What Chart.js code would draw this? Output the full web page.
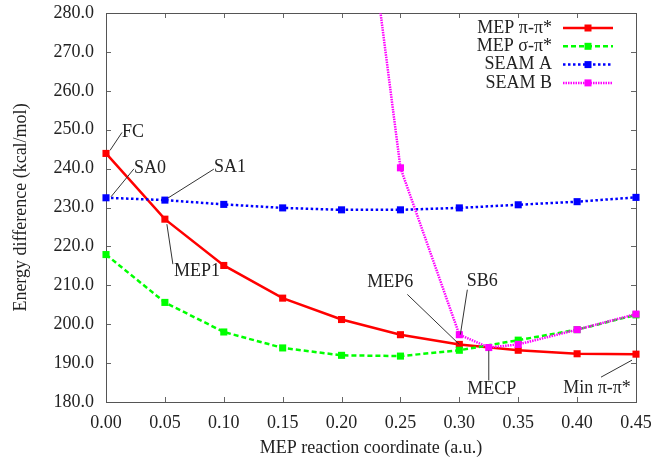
<!DOCTYPE html>
<html>
<head>
<meta charset="utf-8">
<script src="https://cdn.jsdelivr.net/npm/chart.js@4.4.1/dist/chart.umd.min.js"></script>
<style>
  html, body { margin: 0; padding: 0; background: #fff; }
  #wrap { width: 654px; height: 462px; }
</style>
</head>
<body>
<div id="wrap"><canvas id="energyChart" width="654" height="462"></canvas></div>
<script>
// coordonnée de réaction MEP
const xMep = [0.00, 0.05, 0.10, 0.15, 0.20, 0.25, 0.30, 0.35, 0.40, 0.45];
const mepPiPi = [243.9, 227.0, 215.1, 206.7, 201.2, 197.3, 194.8, 193.3, 192.4, 192.3];
const mepSigmaPi = [217.9, 205.6, 198.0, 193.9, 192.0, 191.8, 193.3, 195.9, 198.6, 202.4];
const seamA = [232.5, 231.9, 230.8, 229.9, 229.4, 229.4, 229.9, 230.7, 231.5, 232.6];
// SEAM B (premier point hors cadre)
const xSeamB = [0.20, 0.25, 0.30, 0.325, 0.35, 0.40, 0.45];
const seamB = [358.0, 240.2, 197.3, 194.0, 194.8, 198.6, 202.6];

const seriesNames = ["MEP \u03c0-\u03c0*", "MEP \u03c3-\u03c0*", "SEAM A", "SEAM B"];
const xTitle = "MEP reaction coordinate (a.u.)";
const yTitle = "Energy difference (kcal/mol)";

const serif = "'Liberation Serif', 'Times New Roman', serif";

function pts(xs, ys) {
    return xs.map((x, i) => ({ x: x, y: ys[i] }));
}

// étiquettes avec trait de rappel : ds = dataset, idx = point
const labels = [
    { text: "FC", ds: 0, idx: 0, l: [4, -3, 16, -21], t: [16, -21], align: "left" },
    { text: "SA0", ds: 2, idx: 0, l: [5, -1, 28, -29], t: [28, -30], align: "left" },
    { text: "SA1", ds: 2, idx: 1, l: [3, -2, 49, -31], t: [49, -33], align: "left" },
    { text: "MEP1", ds: 0, idx: 1, l: [2, 5, 8, 45], t: [9, 52], align: "left" },
    { text: "MEP6", ds: 0, idx: 6, l: [0, 0, -52, -50], t: [-69, -62], align: "center" },
    { text: "SB6", ds: 3, idx: 2, l: [1, 0, 8, -45], t: [23, -53], align: "center" },
    { text: "MECP", ds: 3, idx: 3, l: [0, 3, 0, 33], t: [3, 42], align: "center" },
    { text: "Min \u03c0-\u03c0*", ds: 0, idx: 9, l: [-4, 6, -35, 23], t: [-39, 34], align: "center" }
];

// cadre + graduations vers l'intérieur (style gnuplot)
const framePlugin = {
    id: "frame",
    beforeDatasetsDraw(chart) {
        const { ctx, chartArea: a, scales } = chart;
        ctx.save();
        ctx.strokeStyle = "#666";
        ctx.lineWidth = 1;
        ctx.beginPath();
        scales.x.ticks.forEach(t => {
            const px = Math.round(scales.x.getPixelForValue(t.value)) + 0.5;
            ctx.moveTo(px, a.bottom); ctx.lineTo(px, a.bottom - 5);
            ctx.moveTo(px, a.top); ctx.lineTo(px, a.top + 5);
        });
        scales.y.ticks.forEach(t => {
            const py = Math.round(scales.y.getPixelForValue(t.value)) + 0.5;
            ctx.moveTo(a.left, py); ctx.lineTo(a.left + 5, py);
            ctx.moveTo(a.right, py); ctx.lineTo(a.right - 5, py);
        });
        ctx.stroke();
        ctx.strokeStyle = "#555";
        ctx.strokeRect(Math.round(a.left) + 0.5, Math.round(a.top) + 0.5,
            Math.round(a.right - a.left), Math.round(a.bottom - a.top));
        ctx.restore();
    }
};

const annotPlugin = {
    id: "annot",
    afterDatasetsDraw(chart) {
        const ctx = chart.ctx;
        ctx.save();
        ctx.strokeStyle = "#333";
        ctx.lineWidth = 1;
        ctx.fillStyle = "#222";
        ctx.font = "18px " + serif;
        ctx.textBaseline = "middle";
        labels.forEach(lb => {
            const p = chart.getDatasetMeta(lb.ds).data[lb.idx];
            ctx.beginPath();
            ctx.moveTo(p.x + lb.l[0], p.y + lb.l[1]);
            ctx.lineTo(p.x + lb.l[2], p.y + lb.l[3]);
            ctx.stroke();
            ctx.textAlign = lb.align;
            ctx.fillText(lb.text, p.x + lb.t[0], p.y + lb.t[1]);
        });
        ctx.restore();
    }
};

// légende à la gnuplot : texte à gauche, échantillon à droite
const keyPlugin = {
    id: "key",
    afterDraw(chart) {
        const { ctx, chartArea: a } = chart;
        ctx.save();
        ctx.font = "18px " + serif;
        ctx.textAlign = "right";
        ctx.textBaseline = "middle";
        chart.data.datasets.forEach((ds, i) => {
            const y = a.top + 15 + i * 18.3;
            ctx.fillStyle = "#222";
            ctx.fillText(ds.label, a.right - 84, y);
            ctx.strokeStyle = ds.borderColor;
            ctx.lineWidth = ds.borderWidth;
            ctx.setLineDash(ds.borderDash || []);
            ctx.beginPath();
            ctx.moveTo(a.right - 73, y);
            ctx.lineTo(a.right - 23, y);
            ctx.stroke();
            ctx.setLineDash([]);
            ctx.fillStyle = ds.borderColor;
            ctx.fillRect(a.right - 51.5, y - 3.5, 7, 7);
        });
        ctx.restore();
    }
};

const common = {
    showLine: true,
    fill: false,
    pointStyle: "rect",
    pointRadius: 5,
    pointBorderWidth: 0,
    pointHoverRadius: 5,
    tension: 0,
    clip: { left: 6, right: 6, top: 0, bottom: 0 }
};

const chart = new Chart(document.getElementById("energyChart"), {
    type: "line",
    data: {
        datasets: [{
            ...common,
            label: seriesNames[0],
            data: pts(xMep, mepPiPi),
            borderColor: "#ff0000",
            backgroundColor: "#ff0000",
            borderWidth: 2.5,
            order: 3
        }, {
            ...common,
            label: seriesNames[1],
            data: pts(xMep, mepSigmaPi),
            borderColor: "#00ff00",
            backgroundColor: "#00ff00",
            borderWidth: 2.5,
            borderDash: [5, 3],
            order: 2
        }, {
            ...common,
            label: seriesNames[2],
            data: pts(xMep, seamA),
            borderColor: "#0000ff",
            backgroundColor: "#0000ff",
            borderWidth: 2.5,
            borderDash: [2.5, 2.5],
            order: 1
        }, {
            ...common,
            label: seriesNames[3],
            data: pts(xSeamB, seamB),
            borderColor: "#ff00ff",
            backgroundColor: "#ff00ff",
            borderWidth: 2.5,
            borderDash: [1.5, 1],
            order: 0
        }]
    },
    options: {
        responsive: false,
        animation: false,
        layout: { padding: { top: 13, right: 18, left: 0, bottom: 0 } },
        plugins: {
            legend: { display: false },
            tooltip: { enabled: false }
        },
        scales: {
            x: {
                type: "linear",
                min: 0,
                max: 0.45,
                afterFit: s => { s.height = 60; s.paddingLeft = 0; s.paddingRight = 0; },
                grid: { display: false, drawTicks: false },
                border: { display: false },
                ticks: {
                    stepSize: 0.05,
                    padding: 10,
                    color: "#222",
                    font: { family: serif, size: 18 },
                    callback: v => Number(v).toFixed(2)
                },
                title: {
                    display: true,
                    text: xTitle,
                    color: "#222",
                    font: { family: serif, size: 18 },
                    padding: { top: 0, bottom: 3 }
                }
            },
            y: {
                min: 180,
                max: 280,
                afterFit: s => { s.width = 106; s.paddingTop = 0; s.paddingBottom = 0; },
                grid: { display: false, drawTicks: false },
                border: { display: false },
                ticks: {
                    stepSize: 10,
                    padding: 12,
                    color: "#222",
                    font: { family: serif, size: 18 },
                    callback: v => Number(v).toFixed(1)
                },
                title: {
                    display: true,
                    text: yTitle,
                    color: "#222",
                    font: { family: serif, size: 18 },
                    padding: { top: 10, bottom: 0 }
                }
            }
        }
    },
    plugins: [framePlugin, annotPlugin, keyPlugin]
});
</script>
</body>
</html>
